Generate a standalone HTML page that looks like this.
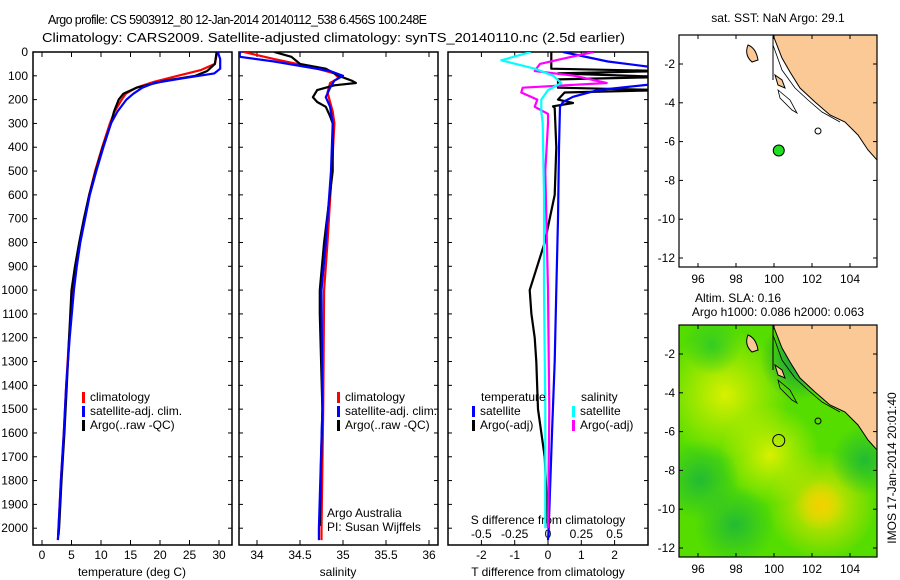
<!DOCTYPE html>
<html><head><meta charset="utf-8"><style>
body{margin:0;background:#fff;}
svg{display:block;font-family:"Liberation Sans",sans-serif;}
text{font-size:12px;fill:#000;}
</style></head><body>
<svg id="c" width="900" height="580" viewBox="0 0 900 580">
<text x="48" y="24" textLength="379" lengthAdjust="spacing" style="font-size:12.5px">Argo profile: CS 5903912_80 12-Jan-2014 20140112_538 6.456S 100.248E</text>
<text x="42" y="42" textLength="583" lengthAdjust="spacingAndGlyphs" style="font-size:13px">Climatology: CARS2009. Satellite-adjusted climatology: synTS_20140110.nc (2.5d earlier)</text>
<g id="plots"></g>
<g id="maps">
 <text x="778" y="22" text-anchor="middle">sat. SST: NaN Argo: 29.1</text>
 <text x="738" y="302" text-anchor="middle">Altim. SLA: 0.16</text>
 <text x="778" y="316" text-anchor="middle">Argo h1000: 0.086 h2000: 0.063</text>
 <text transform="translate(896,468) rotate(-90)" text-anchor="middle">IMOS 17-Jan-2014 20:01:40</text>
</g>
</svg>
<script>
// ---- data ----
const depthTicks=[0,100,200,300,400,500,600,700,800,900,1000,1100,1200,1300,1400,1500,1600,1700,1800,1900,2000];
const tempTicks=[0,5,10,15,20,25,30];
const salTicks=[34,34.5,35,35.5,36];
const tdTicks=[-2,-1,0,1,2];
const sdTicks=[-0.5,-0.25,0,0.25,0.5];
const sdLabels=["-0.5","-0.25","0","0.25","0.5"];
const tClimDepth=[0,50,75,100,125,150,175,200,250,300,400,500,600,700,800,900,1000,1200,1400,1600,1800,2000,2050];
const tClim=[29.7,29.3,27,23,19,16,14.2,13.5,12.3,11.5,10.2,9,8,7.2,6.4,5.8,5.3,4.6,4.1,3.7,3.2,2.8,2.7];
const tSatDepth=[0,30,70,90,110,130,150,175,200,250,300,400,500,600,700,800,900,1000,1200,1400,1600,1800,2000,2050];
const tSat=[29.8,30.2,30.2,29.2,24,19,17,15.5,14.3,12.8,11.7,10.4,9.2,8.1,7.3,6.5,5.9,5.4,4.7,4.1,3.7,3.2,2.8,2.7];
const tArgoDepth=[0,50,80,100,120,150,175,200,250,300,400,500,600,700,800,900,1000,1100,1200,1400,1600,1800,2000,2030];
const tArgo=[29.6,29.3,28,26,21,16,13.8,13,12.2,11.7,10.3,9.1,8,7.1,6.3,5.6,5.0,4.8,4.6,4.2,3.8,3.3,2.9,2.8];
const sClimDepth=[0,30,60,90,110,130,170,250,300,500,800,1000,1500,2000,2050];
const sClim=[33.85,34.2,34.6,34.9,34.95,34.85,34.82,34.88,34.9,34.87,34.82,34.78,34.77,34.75,34.75];
const sSatDepth=[0,20,40,80,100,120,150,190,230,300,500,800,1000,1500,2000,2050];
const sSat=[33.8,33.8,34.2,34.85,35.0,34.9,34.85,34.8,34.85,34.88,34.86,34.8,34.75,34.76,34.72,34.72];
const sArgoDepth=[0,20,50,70,100,120,130,140,160,190,210,230,270,300,500,800,1000,1100,1500,1800,1990];
const sArgo=[34.2,34.4,34.5,34.8,34.95,35.1,35.15,34.9,34.7,34.65,34.7,34.8,34.85,34.88,34.88,34.78,34.73,34.73,34.76,34.74,34.73];
const dtSatDepth=[0,40,70,80,110,130,160,188,210,230,400,700,1000,1300,1600,2000,2050];
const dtSat=[0.45,1.8,3.5,3.5,3.5,3.5,1.5,0.75,0.45,0.36,0.33,0.3,0.25,0.2,0.12,0.02,0];
const dtArgoDepth=[0,40,70,80,90,105,115,150,160,170,200,214,228,235,400,600,800,1000,1100,1200,1300,1500,1700,2000];
const dtArgo=[0.1,0.1,0.1,3.5,0.3,3.5,0.3,0.3,3.5,0.5,0.3,0.75,0.15,0.2,0.25,0.2,-0.1,-0.55,-0.5,-0.4,-0.35,-0.3,-0.1,0];
const dsSatDepth=[0,35,70,100,130,160,200,250,300,600,1000,1500,2000];
const dsSat=[-0.13,-0.35,-0.1,0.04,0.1,0.0,-0.05,-0.05,-0.04,-0.03,-0.03,-0.02,-0.02];
const dsArgoDepth=[0,30,50,80,100,130,150,170,200,230,260,300,500,1000,1500,2000];
const dsArgo=[0.34,0.1,-0.06,-0.1,0.2,0.44,-0.19,-0.2,-0.08,-0.1,0.0,0.0,-0.02,0.0,0.01,0.0];

// ---- axes ----
const NS="http://www.w3.org/2000/svg";
const root=document.getElementById('plots');
const top0=52, bot=545;
const yD=d=>top0+d*0.2381;
const xT=t=>42+t*5.9;
const xS=s=>257+(s-34)*86;
const xDT=t=>548+t*33.3;
const xDS=s=>548+s*133.3;
function mk(tag,attrs,parent){const e=document.createElementNS(NS,tag);for(const k in attrs)e.setAttribute(k,attrs[k]);(parent||root).appendChild(e);return e;}
function txt(x,y,s,anchor){const e=mk('text',{x:x,y:y,'text-anchor':anchor||'start'});e.textContent=s;return e;}

const panels=[[33,232],[239,438],[448,648]];
panels.forEach((p,i)=>{
  const r=mk('rect',{x:p[0],y:top0,width:p[1]-p[0],height:bot-top0,fill:'none',stroke:'#000','stroke-width':1.5});
  
  
});
depthTicks.forEach(d=>{
  const t=txt(28,yD(d)+4,String(d),'end');
  
  
  panels.forEach(p=>{mk('line',{x1:p[0],x2:p[0]+4,y1:yD(d),y2:yD(d),stroke:'#000'});mk('line',{x1:p[1]-4,x2:p[1],y1:yD(d),y2:yD(d),stroke:'#000'});});
});
function xticks(vals,fx,labels,ly){
  vals.forEach((v,i)=>{
    const x=fx(v);
    mk('line',{x1:x,x2:x,y1:top0,y2:top0+5,stroke:'#000'});
    mk('line',{x1:x,x2:x,y1:bot-5,y2:bot,stroke:'#000'});
    const t=txt(x,ly,labels?labels[i]:String(v),'middle');
    
    
  });
}
xticks(tempTicks,xT,null,559);
xticks(salTicks,xS,null,559);
xticks(tdTicks,xDT,null,559);
sdTicks.forEach((v,i)=>{const t=txt(xDS(v),538,sdLabels[i],'middle');
  
  });
[[132,'temperature (deg C)','temperature-axis-title'],[338,'salinity','salinity-axis-title'],[548,'T difference from climatology','t-diff-axis-title']].forEach(a=>{
  const t=txt(a[0],576,a[1],'middle');
  
  
});
{const t=txt(548,524,'S difference from climatology','middle');
 
 }

panels.forEach((p,i)=>{const c=mk('clipPath',{id:'cp'+i});mk('rect',{x:p[0],y:top0,width:p[1]-p[0],height:bot-top0},c);});
function line(ds,vs,fx,color,clip,name,w){
  const pts=ds.map((d,i)=>fx(vs[i]).toFixed(1)+','+yD(d).toFixed(1)).join(' ');
  const e=mk('polyline',{points:pts,fill:'none',stroke:color,'stroke-width':w||2.2,'clip-path':'url(#cp'+clip+')','stroke-linejoin':'round'});
  
  
}
line(tClimDepth,tClim,xT,'#f00',0,'temp-climatology-line');
line(tArgoDepth,tArgo,xT,'#000',0,'temp-argo-line');
line(tSatDepth,tSat,xT,'#00f',0,'temp-satellite-line');
line(sClimDepth,sClim,xS,'#f00',1,'sal-climatology-line');
line(sArgoDepth,sArgo,xS,'#000',1,'sal-argo-line');
line(sSatDepth,sSat,xS,'#00f',1,'sal-satellite-line');
line(dtArgoDepth,dtArgo,xDT,'#000',2,'tdiff-argo-line');
line(dtSatDepth,dtSat,xDT,'#00f',2,'tdiff-satellite-line');
line(dsArgoDepth,dsArgo,xDS,'#f0f',2,'sdiff-argo-line');
line(dsSatDepth,dsSat,xDS,'#0ff',2,'sdiff-satellite-line');

function leg(x,y,color,label,name){
  mk('rect',{x:x,y:y-9,width:3,height:11,fill:color});
  const t=txt(x+8,y,label);
  
  
}
[[82,'1'],[337,'2']].forEach(l=>{
  leg(l[0],401,'#f00','climatology','legend-climatology-'+l[1]);
  leg(l[0],415,'#00f','satellite-adj. clim.','legend-satellite-'+l[1]);
  leg(l[0],429,'#000','Argo(..raw -QC)','legend-argo-'+l[1]);
});
{const t=txt(481,401,'temperature');}
{const t=txt(581,401,'salinity');}
leg(472,415,'#00f','satellite','legend-t-satellite');
leg(472,429,'#000','Argo(-adj)','legend-t-argo');
leg(572,415,'#0ff','satellite','legend-s-satellite');
leg(572,429,'#f0f','Argo(-adj)','legend-s-argo');
{const t=txt(327,517,'Argo Australia');}
{const t=txt(327,531,'PI: Susan Wijffels');}

// ---- maps ----
const mapsG=document.getElementById('maps');
const lonTicks=[96,98,100,102,104];
const latTicks=[-2,-4,-6,-8,-10,-12];
const floatLon=100.25, floatLat=-6.46;
const mL=679,mR=877;
const xLon=l=>698+(l-96)*19;
function drawMap(oy,idx){
  const yLat=a=>oy+64+(-2-a)*19.4;
  const g=mk('g',{},mapsG);
  
  
  const c=mk('clipPath',{id:'mc'+idx},g);mk('rect',{x:mL,y:oy+35,width:mR-mL,height:232},c);
  const inner=mk('g',{'clip-path':'url(#mc'+idx+')'},g);
  if(idx){
    const defs=mk('defs',{},inner);
    const blobs=[[725,oy+105,65,'#d8f000'],[770,oy+165,50,'#d8f000'],[822,oy+215,55,'#e8e400'],[820,oy+215,25,'#f0d000'],[700,oy+190,40,'#22bb33'],[735,oy+235,40,'#22bb33'],[865,oy+170,35,'#22bb33'],[712,oy+55,30,'#33cc22'],[800,oy+70,40,'#119944']];
    mk('rect',{x:mL,y:oy+35,width:mR-mL,height:232,fill:'#55dd00'},inner);
    blobs.forEach((b,i)=>{
      const rg=mk('radialGradient',{id:'rg'+i},defs);
      mk('stop',{offset:'0','stop-color':b[3],'stop-opacity':1},rg);
      mk('stop',{offset:'1','stop-color':b[3],'stop-opacity':0},rg);
      mk('circle',{cx:b[0],cy:b[1],r:b[2],fill:'url(#rg'+i+')'},inner);
    });
  }
  mk('path',{d:`M773 ${oy+35} L877 ${oy+35} L877 ${oy+160} L868 ${oy+150} L858 ${oy+135} L845 ${oy+122} L830 ${oy+115} L815 ${oy+102} L800 ${oy+88} L790 ${oy+72} L782 ${oy+58} Z`,fill:'#fbc995',stroke:'#000','stroke-width':1},inner);
  mk('path',{d:`M773 ${oy+45} L782 ${oy+70} L795 ${oy+88} L808 ${oy+100} L822 ${oy+112} L840 ${oy+122}`,fill:'none',stroke:'#000','stroke-width':0.8},inner);
  mk('path',{d:`M748 ${oy+45} Q756 ${oy+48} 758 ${oy+60} L752 ${oy+62} Q744 ${oy+55} 748 ${oy+45} Z`,fill:'#fbc995',stroke:'#000'},inner);
  mk('path',{d:`M775 ${oy+75} L782 ${oy+80} L785 ${oy+88} L778 ${oy+85} Z`,fill:'#fbc995',stroke:'#000'},inner);
  mk('path',{d:`M778 ${oy+90} L790 ${oy+100} L797 ${oy+113} L792 ${oy+110} L780 ${oy+98} Z`,fill:'none',stroke:'#000','stroke-width':0.8},inner);
  mk('circle',{cx:818,cy:oy+131,r:3,fill:'none',stroke:'#000'},inner);
  mk('line',{x1:773,x2:773,y1:oy+35,y2:oy+80,stroke:'#000'},inner);
  mk('rect',{x:mL,y:oy+35,width:mR-mL,height:232,fill:'none',stroke:'#000','stroke-width':1.2},g);
  const dot=mk('circle',{cx:xLon(floatLon),cy:yLat(floatLat),r:idx?6:5.5,fill:idx?'none':'#22dd22',stroke:'#000','stroke-width':1},g);
  
  
  lonTicks.forEach(l=>{
    mk('line',{x1:xLon(l),x2:xLon(l),y1:oy+35,y2:oy+39,stroke:'#000'},g);
    mk('line',{x1:xLon(l),x2:xLon(l),y1:oy+263,y2:oy+267,stroke:'#000'},g);
    const t=mk('text',{x:xLon(l),y:oy+283,'text-anchor':'middle'},g);t.textContent=String(l);
    
    
  });
  latTicks.forEach(a=>{
    mk('line',{x1:mL,x2:mL+4,y1:yLat(a),y2:yLat(a),stroke:'#000'},g);
    mk('line',{x1:mR-4,x2:mR,y1:yLat(a),y2:yLat(a),stroke:'#000'},g);
    const t=mk('text',{x:mL-4,y:yLat(a)+4,'text-anchor':'end'},g);t.textContent=String(a);
    
    
  });
}
drawMap(0,0);
drawMap(290,1);
</script>
</body></html>
